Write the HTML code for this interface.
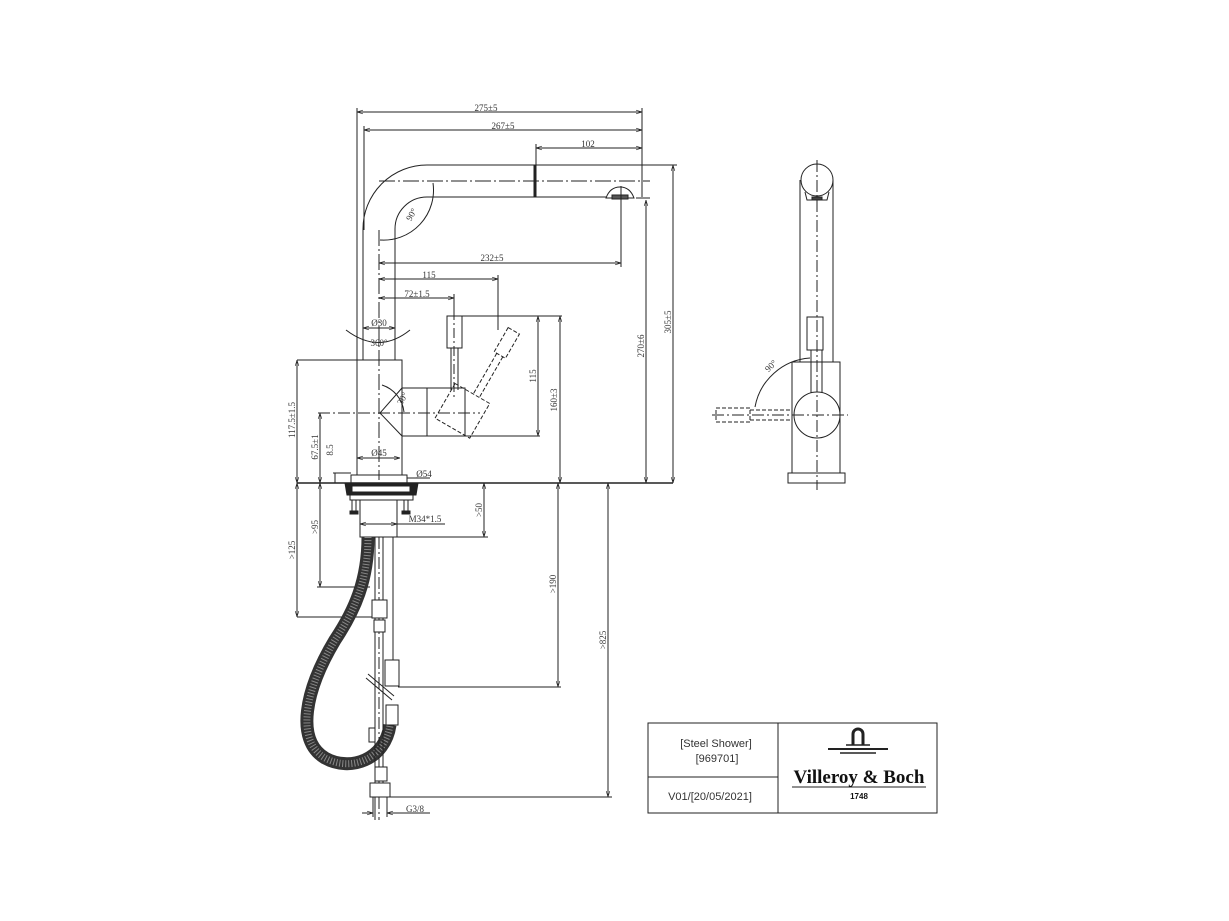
<!DOCTYPE html>
<html><head><meta charset="utf-8"><style>
html,body{margin:0;padding:0;background:#fff;}
svg{display:block;}
text{font-family:"Liberation Serif",serif;fill:#333;}
</style></head><body>
<svg width="1229" height="921" viewBox="0 0 1229 921" xmlns="http://www.w3.org/2000/svg">
<defs>
<marker id="a" viewBox="0 0 10 10" refX="10" refY="5" markerWidth="6" markerHeight="6" orient="auto-start-reverse"><path d="M0,2 L10,5 L0,8" fill="none" stroke="#222" stroke-width="1"/></marker>
</defs>
<g stroke="#222" stroke-width="1" fill="none">
<line x1="357" y1="112" x2="642" y2="112" marker-start="url(#a)" marker-end="url(#a)"/>
<line x1="364" y1="130" x2="642" y2="130" marker-start="url(#a)" marker-end="url(#a)"/>
<line x1="536" y1="148" x2="642" y2="148" marker-start="url(#a)" marker-end="url(#a)"/>
<line x1="357" y1="108" x2="357" y2="360"/>
<line x1="364" y1="126" x2="364" y2="230"/>
<line x1="642" y1="108" x2="642" y2="197"/>
<line x1="536" y1="144" x2="536" y2="165"/>
<path d="M363,360 L363,229 A64,64 0 0 1 427,165 L677,165"/>
<path d="M395,360 L395,229 A32,32 0 0 1 427,197 L606,197"/>
<line x1="642" y1="165" x2="642" y2="197"/>
<line x1="535" y1="165" x2="535" y2="197" stroke-width="3"/>
<path d="M606,198 Q610,187 620,187 Q630,187 634,198 Z"/>
<rect x="612" y="195" width="16" height="4" fill="#555"/>
<line x1="636" y1="198" x2="650" y2="198"/>
<line x1="379" y1="181" x2="650" y2="181" stroke-dasharray="16,3,2,3"/>
<line x1="379" y1="230" x2="379" y2="480" stroke-dasharray="16,3,2,3"/>
<path d="M380,240 A50,50 0 0 0 433,183"/>
<line x1="379" y1="263" x2="621" y2="263" marker-start="url(#a)" marker-end="url(#a)"/>
<line x1="621" y1="186" x2="621" y2="267"/>
<line x1="379" y1="279" x2="498" y2="279" marker-start="url(#a)" marker-end="url(#a)"/>
<line x1="498" y1="275" x2="498" y2="330"/>
<line x1="379" y1="298" x2="454" y2="298" marker-start="url(#a)" marker-end="url(#a)"/>
<line x1="454" y1="294" x2="454" y2="320"/>
<rect x="447" y="316" width="15" height="32"/>
<line x1="462" y1="316" x2="562" y2="316"/>
<line x1="451" y1="348" x2="451" y2="390"/>
<line x1="458" y1="348" x2="458" y2="390"/>
<line x1="454" y1="310" x2="454" y2="400" stroke-dasharray="10,3,2,3"/>
<g stroke-dasharray="4,2" transform="rotate(30 475 395)">
<rect x="470" y="320" width="13" height="28"/>
<line x1="473" y1="348" x2="473" y2="395"/>
<line x1="480" y1="348" x2="480" y2="395"/>
<rect x="452" y="395" width="40" height="40"/>
</g>
<rect x="357" y="360" width="45" height="115"/>
<rect x="402" y="388" width="63" height="48"/>
<line x1="427" y1="388" x2="427" y2="436"/>
<line x1="380" y1="413" x2="402" y2="388"/>
<line x1="380" y1="413" x2="402" y2="436"/>
<line x1="465" y1="436" x2="540" y2="436"/>
<line x1="318" y1="413" x2="480" y2="413" stroke-dasharray="12,3,2,3"/>
<path d="M382,385 A32,32 0 0 1 404,412"/>
<path d="M346,330 Q379,355 410,330"/>
<line x1="363" y1="328" x2="395" y2="328" marker-start="url(#a)" marker-end="url(#a)"/>
<line x1="357" y1="458" x2="400" y2="458" marker-start="url(#a)" marker-end="url(#a)"/>
<rect x="351" y="475" width="56" height="8"/>
<line x1="407" y1="478" x2="430" y2="478"/>
<line x1="538" y1="316" x2="538" y2="436" marker-start="url(#a)" marker-end="url(#a)"/>
<line x1="560" y1="316" x2="560" y2="483" marker-start="url(#a)" marker-end="url(#a)"/>
<line x1="646" y1="200" x2="646" y2="483" marker-start="url(#a)" marker-end="url(#a)"/>
<line x1="673" y1="165" x2="673" y2="483" marker-start="url(#a)" marker-end="url(#a)"/>
<line x1="297" y1="360" x2="357" y2="360"/>
<line x1="297" y1="360" x2="297" y2="483" marker-start="url(#a)" marker-end="url(#a)"/>
<line x1="320" y1="413" x2="320" y2="483" marker-start="url(#a)" marker-end="url(#a)"/>
<line x1="335" y1="473" x2="335" y2="483"/>
<line x1="333" y1="473" x2="351" y2="473"/>
<line x1="297" y1="483" x2="673" y2="483" stroke-width="1.5"/>
<path d="M345,483 L418,483 L416,495 L347,495 Z" fill="#222"/>
<rect x="352" y="486" width="58" height="6" fill="#fff"/>
<rect x="350" y="495" width="63" height="5"/>
<line x1="352" y1="500" x2="352" y2="512"/><line x1="356" y1="500" x2="356" y2="512"/>
<line x1="404" y1="500" x2="404" y2="512"/><line x1="408" y1="500" x2="408" y2="512"/>
<rect x="350" y="511" width="8" height="3" fill="#222"/><rect x="402" y="511" width="8" height="3" fill="#222"/>
<rect x="360" y="500" width="37" height="37"/>
<line x1="360" y1="524" x2="397" y2="524" marker-start="url(#a)" marker-end="url(#a)"/>
<line x1="397" y1="524" x2="445" y2="524"/>
<line x1="397" y1="537" x2="488" y2="537"/>
<line x1="484" y1="483" x2="484" y2="537" marker-start="url(#a)" marker-end="url(#a)"/>
<line x1="320" y1="483" x2="320" y2="587" marker-start="url(#a)" marker-end="url(#a)"/>
<line x1="317" y1="587" x2="370" y2="587"/>
<line x1="297" y1="483" x2="297" y2="617" marker-start="url(#a)" marker-end="url(#a)"/>
<line x1="297" y1="617" x2="375" y2="617"/>
<line x1="558" y1="483" x2="558" y2="687" marker-start="url(#a)" marker-end="url(#a)"/>
<line x1="398" y1="687" x2="561" y2="687"/>
<line x1="608" y1="483" x2="608" y2="797" marker-start="url(#a)" marker-end="url(#a)"/>
<line x1="390" y1="797" x2="612" y2="797"/>
</g>
<path d="M368,537 C368,580 355,610 335,640 C305,690 295,740 325,758 C350,772 385,760 390,725" fill="none" stroke="#333" stroke-width="13"/>
<path d="M368,537 C368,580 355,610 335,640 C305,690 295,740 325,758 C350,772 385,760 390,725" fill="none" stroke="#888" stroke-width="7" stroke-dasharray="1,2"/>
<g stroke="#222" stroke-width="1" fill="none">
<line x1="375" y1="537" x2="375" y2="820"/>
<line x1="383" y1="537" x2="383" y2="783"/>
<line x1="393" y1="537" x2="393" y2="660"/>
<line x1="379" y1="537" x2="379" y2="820" stroke-dasharray="12,3,2,3"/>
<rect x="372" y="600" width="15" height="18" fill="#fff"/>
<rect x="374" y="620" width="11" height="12" fill="#fff"/>
<rect x="385" y="660" width="14" height="26" fill="#fff"/>
<rect x="386" y="705" width="12" height="20" fill="#fff"/>
<rect x="369" y="728" width="6" height="14" fill="#fff"/>
<line x1="366" y1="678" x2="392" y2="700"/><line x1="368" y1="674" x2="394" y2="696"/>
<rect x="375" y="767" width="12" height="14" fill="#fff"/>
<rect x="370" y="783" width="20" height="14" fill="#fff"/>
<line x1="373" y1="797" x2="373" y2="817"/><line x1="387" y1="797" x2="387" y2="817"/>
<line x1="362" y1="813" x2="373" y2="813" marker-end="url(#a)"/>
<line x1="387" y1="813" x2="430" y2="813" marker-start="url(#a)"/>
<circle cx="817" cy="180" r="16"/>
<path d="M805,192 L807,200 L827,200 L829,192"/>
<rect x="812" y="197" width="10" height="3" fill="#444"/>
<line x1="800" y1="180" x2="800" y2="362"/>
<line x1="833" y1="180" x2="833" y2="362"/>
<rect x="792" y="362" width="48" height="111"/>
<rect x="788" y="473" width="57" height="10"/>
<circle cx="817" cy="415" r="23" fill="#fff"/>
<rect x="807" y="317" width="16" height="33" fill="#fff"/>
<line x1="811" y1="350" x2="811" y2="393"/><line x1="822" y1="350" x2="822" y2="393"/>
<line x1="817" y1="160" x2="817" y2="490" stroke-dasharray="12,3,2,3"/>
<line x1="712" y1="415" x2="848" y2="415" stroke-dasharray="12,3,2,3"/>
<g stroke-dasharray="4,2">
<rect x="716" y="408" width="34" height="14"/>
<line x1="750" y1="410" x2="792" y2="410"/><line x1="750" y1="420" x2="792" y2="420"/>
</g>
<path d="M755,407 A60,60 0 0 1 810,358"/>
<rect x="648" y="723" width="289" height="90"/>
<line x1="778" y1="723" x2="778" y2="813"/>
<line x1="648" y1="777" x2="778" y2="777"/>
<path d="M853,745 L853,734 A5,5 0 0 1 863,734 L863,745" stroke-width="3"/>
<line x1="846" y1="745" x2="870" y2="745" stroke-width="1.5"/>
<line x1="828" y1="749" x2="888" y2="749" stroke-width="2"/>
<line x1="840" y1="753" x2="876" y2="753" stroke-width="1.5"/>
<line x1="792" y1="787" x2="926" y2="787" stroke-width="1"/>
</g>
<g font-size="9">
<text x="486" y="111" text-anchor="middle">275±5</text>
<text x="503" y="129" text-anchor="middle">267±5</text>
<text x="588" y="147" text-anchor="middle">102</text>
<text x="492" y="261" text-anchor="middle">232±5</text>
<text x="429" y="278" text-anchor="middle">115</text>
<text x="417" y="297" text-anchor="middle">72±1.5</text>
<text x="379" y="326" text-anchor="middle">Ø30</text>
<text x="379" y="346" text-anchor="middle">360°</text>
<text x="379" y="456" text-anchor="middle">Ø45</text>
<text x="424" y="477" text-anchor="middle">Ø54</text>
<text x="425" y="522" text-anchor="middle">M34*1.5</text>
<text x="415" y="812" text-anchor="middle">G3/8</text>
<text transform="translate(414,216) rotate(-60)" text-anchor="middle">90°</text>
<text transform="translate(405,400) rotate(-60)" text-anchor="middle">30°</text>
<text transform="translate(773,368) rotate(-45)" text-anchor="middle">90°</text>
<text transform="translate(536,376) rotate(-90)" text-anchor="middle">115</text>
<text transform="translate(557,400) rotate(-90)" text-anchor="middle">160±3</text>
<text transform="translate(644,346) rotate(-90)" text-anchor="middle">270±6</text>
<text transform="translate(671,322) rotate(-90)" text-anchor="middle">305±5</text>
<text transform="translate(295,420) rotate(-90)" text-anchor="middle">117.5±1.5</text>
<text transform="translate(318,447) rotate(-90)" text-anchor="middle">67.5±1</text>
<text transform="translate(333,450) rotate(-90)" text-anchor="middle">8.5</text>
<text transform="translate(482,510) rotate(-90)" text-anchor="middle">&gt;50</text>
<text transform="translate(318,527) rotate(-90)" text-anchor="middle">&gt;95</text>
<text transform="translate(295,550) rotate(-90)" text-anchor="middle">&gt;125</text>
<text transform="translate(556,584) rotate(-90)" text-anchor="middle">&gt;190</text>
<text transform="translate(606,640) rotate(-90)" text-anchor="middle">&gt;825</text>
</g>
<text x="716" y="747" text-anchor="middle" font-size="11" style="font-family:'Liberation Sans',sans-serif">[Steel Shower]</text>
<text x="717" y="762" text-anchor="middle" font-size="11" style="font-family:'Liberation Sans',sans-serif">[969701]</text>
<text x="710" y="800" text-anchor="middle" font-size="11" style="font-family:'Liberation Sans',sans-serif">V01/[20/05/2021]</text>
<text x="859" y="783" text-anchor="middle" font-size="19" font-weight="bold" style="fill:#111">Villeroy &amp; Boch</text>
<text x="859" y="799" text-anchor="middle" font-size="8" font-weight="bold" style="fill:#111;font-family:'Liberation Sans',sans-serif">1748</text>
</svg>
</body></html>
